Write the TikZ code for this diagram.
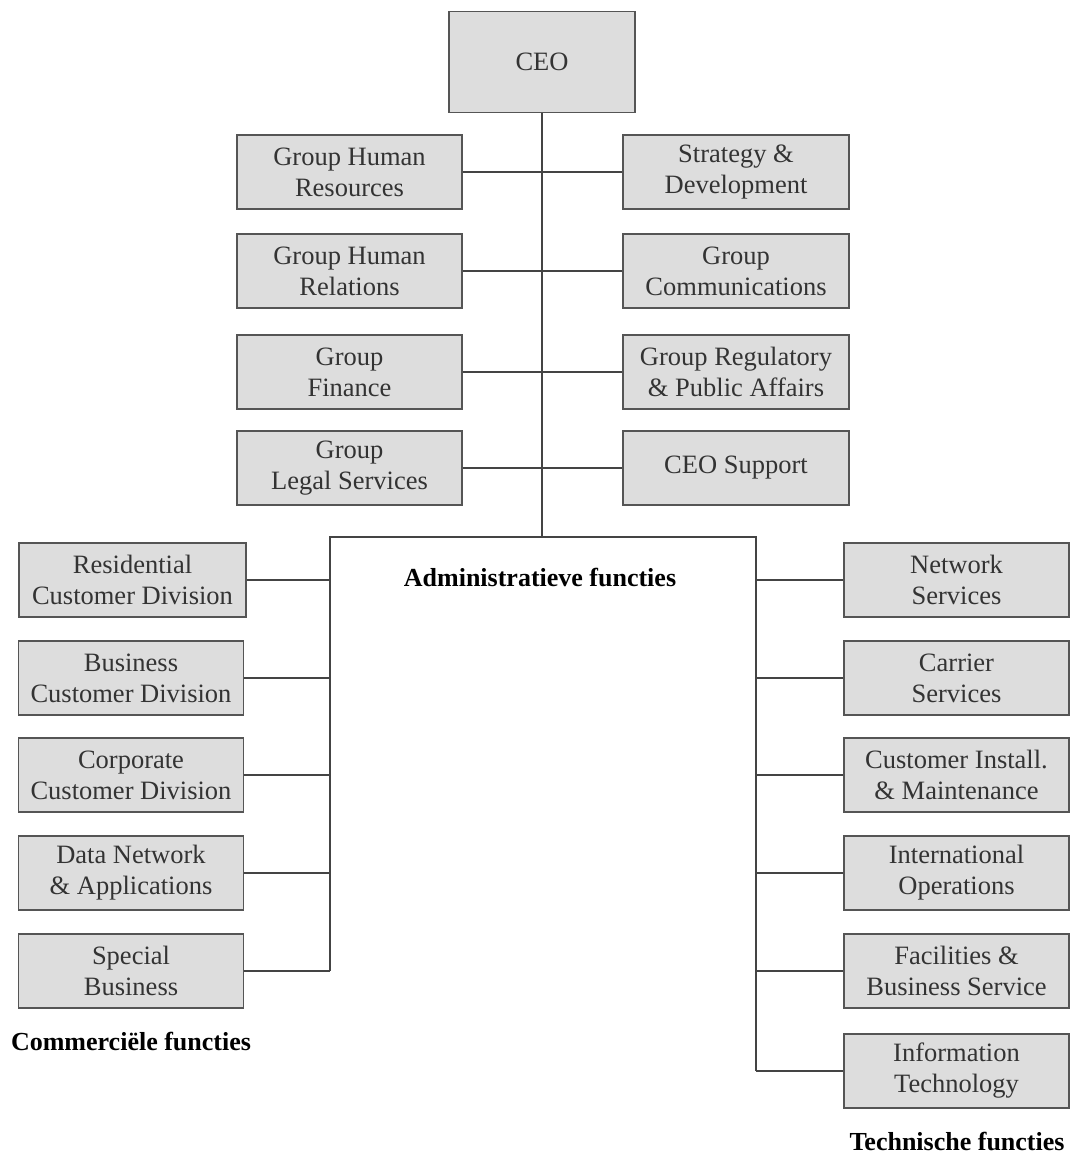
\documentclass[tikz,border=0pt]{standalone}
\usepackage{fontspec}
\setmainfont{Liberation Serif}
\definecolor{boxgray}{HTML}{DDDDDD}
\definecolor{boxedge}{HTML}{555555}
\definecolor{linegray}{HTML}{444444}
\begin{document}
\begin{tikzpicture}[x=1pt,y=-1pt,
  orgbox/.style={draw=boxedge, fill=boxgray, line width=1.6pt, align=center,
    minimum height=74pt, inner sep=0pt,
    font=\fontsize{26.5}{31}\selectfont\color{black!80}},
  leftbox/.style={orgbox, minimum width=225pt},
  rightbox/.style={orgbox, minimum width=226pt},
  link/.style={draw=linegray, line width=1.3pt},
  grouptitle/.style={font=\fontsize{26}{30}\selectfont\bfseries, inner sep=0pt}]
\useasboundingbox (0,0) rectangle (1072,1155);

% top of the hierarchy
\node[orgbox, minimum width=186pt, minimum height=101pt] (ceo) at (542,62) {CEO};

% administrative staff functions, left and right of the trunk
\node[leftbox]  (hr)  at (349.5,172) {Group Human\\Resources};
\node[rightbox] (str) at (736,172)   {Strategy \&\\Development};
\node[leftbox]  (rel) at (349.5,271) {Group Human\\Relations};
\node[rightbox] (com) at (736,271)   {Group\\Communications};
\node[leftbox]  (fin) at (349.5,372) {Group\\Finance};
\node[rightbox] (reg) at (736,372)   {Group Regulatory\\\& Public Affairs};
\node[leftbox]  (leg) at (349.5,468) {Group\\Legal Services};
\node[rightbox] (sup) at (736,468)   {CEO Support};

% frame of the administrative block
\coordinate (admTL) at (330,537);
\coordinate (admTR) at (756,537);
\coordinate (admTop) at (542,537);
\node[grouptitle] (admtitle) at (540,578) {Administratieve functies};

% commercial divisions
\node[leftbox, minimum width=227pt] (res) at (132.5,580) {Residential\\Customer Division};
\node[leftbox] (bus) at (131,678) {Business\\Customer Division};
\node[leftbox] (cor) at (131,775) {Corporate\\Customer Division};
\node[leftbox] (dat) at (131,873) {Data Network\\\& Applications};
\node[leftbox] (spe) at (131,971) {Special\\Business};
\node[grouptitle] (comtitle) at (131,1041) {Commerciële functies};

% technical divisions
\node[rightbox, minimum width=225pt] (net) at (956.5,580)  {Network\\Services};
\node[rightbox, minimum width=225pt] (car) at (956.5,678)  {Carrier\\Services};
\node[rightbox, minimum width=225pt] (cim) at (956.5,775)  {Customer Install.\\\& Maintenance};
\node[rightbox, minimum width=225pt] (int) at (956.5,873)  {International\\Operations};
\node[rightbox, minimum width=225pt] (fac) at (956.5,971)  {Facilities \&\\Business Service};
\node[rightbox, minimum width=225pt] (it)  at (956.5,1071) {Information\\Technology};
\node[grouptitle] (techtitle) at (957,1141) {Technische functies};

% trunk and staff connectors
\draw[link] (ceo.south) -- (admTop);
\draw[link] (hr.east) -- (str.west);
\draw[link] (rel.east) -- (com.west);
\draw[link] (fin.east) -- (reg.west);
\draw[link] (leg.east) -- (sup.west);

% administrative frame
\draw[link] (admTL |- spe.east) -- (admTL) -- (admTR) -- (admTR |- it.west);

% commercial connectors
\foreach \n in {res,bus,cor,dat,spe}
  \draw[link] (\n.east) -- (\n.east -| admTL);

% technical connectors
\foreach \n in {net,car,cim,int,fac,it}
  \draw[link] (\n.west) -- (\n.west -| admTR);
\end{tikzpicture}
\end{document}
